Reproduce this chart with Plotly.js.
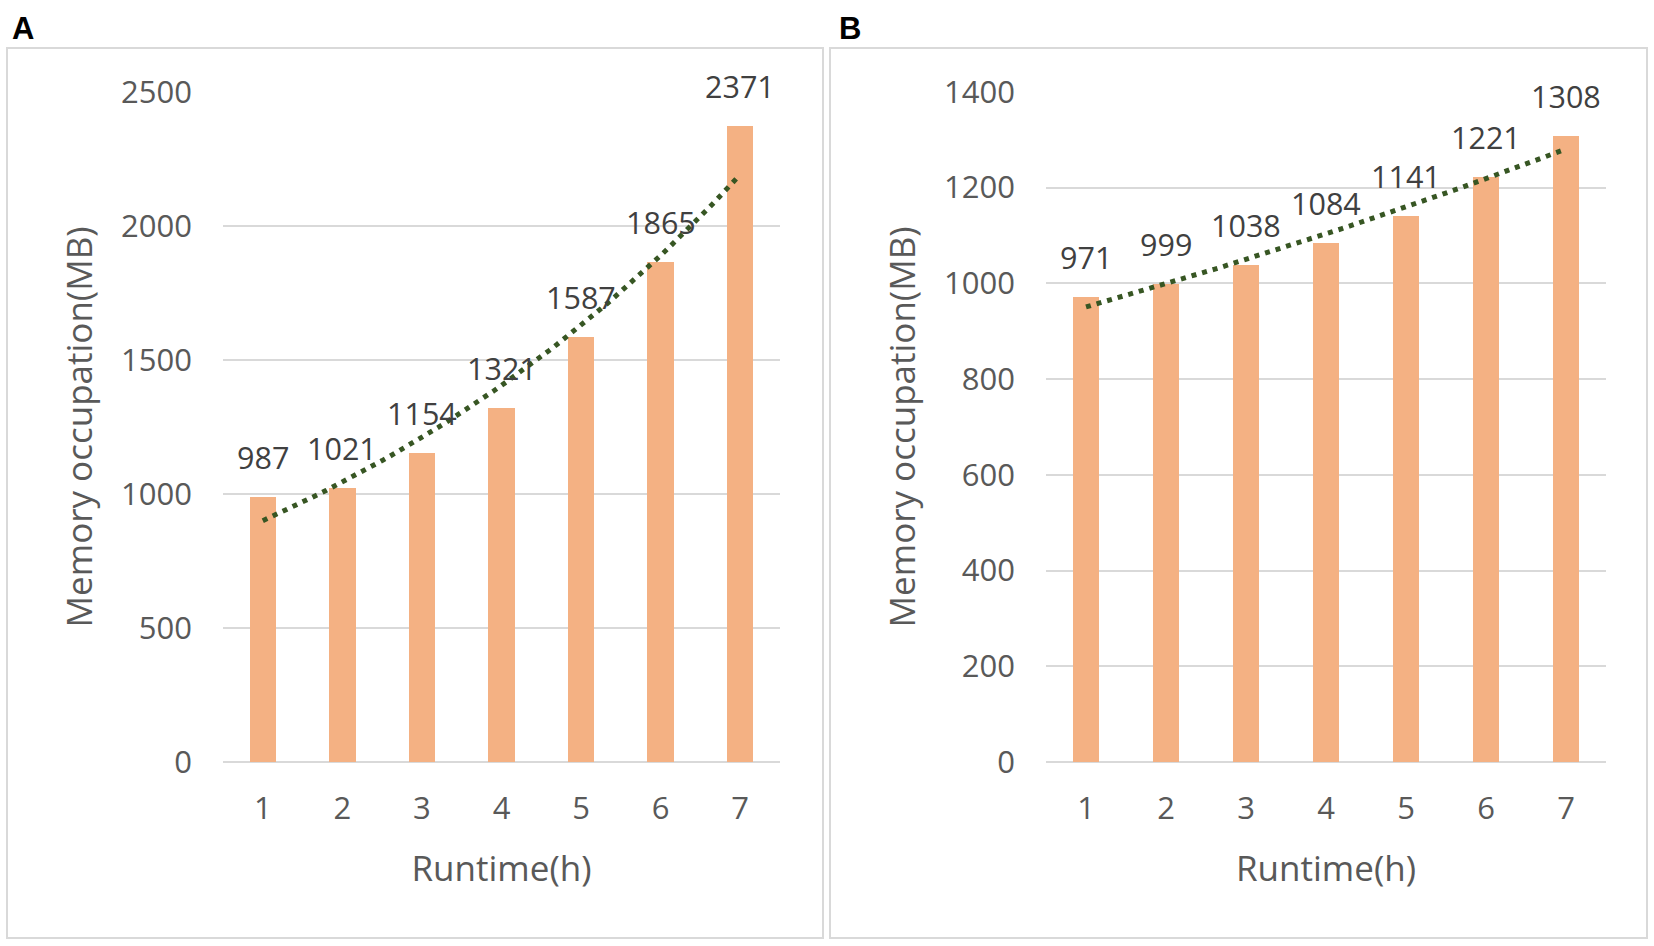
<!DOCTYPE html>
<html>
<head>
<meta charset="utf-8">
<script src="https://cdn.plot.ly/plotly-3.0.1.min.js"></script>
<style>
  html, body { margin: 0; padding: 0; background: #ffffff; }
  #chart { width: 1654px; height: 946px; }
</style>
</head>
<body>
<div id="chart"></div>
<script>
// ---- Data ----
const runtimeHours = [1, 2, 3, 4, 5, 6, 7];
const memoryA = [987, 1021, 1154, 1321, 1587, 1865, 2371];
const memoryB = [971, 999, 1038, 1084, 1141, 1221, 1308];
const yTicksA = [0, 500, 1000, 1500, 2000, 2500];
const yTicksB = [0, 200, 400, 600, 800, 1000, 1200, 1400];
const panelLabels = ["A", "B"];
const xTitle = "Runtime(h)";
const yTitle = "Memory occupation(MB)";

// Exponential trendline (least squares on ln y), as the source chart's trendline
function expTrend(xs, ys) {
  const n = xs.length;
  const ly = ys.map(v => Math.log(v));
  const mx = xs.reduce((a, b) => a + b, 0) / n;
  const my = ly.reduce((a, b) => a + b, 0) / n;
  let sxy = 0, sxx = 0;
  for (let i = 0; i < n; i++) { sxy += (xs[i] - mx) * (ly[i] - my); sxx += (xs[i] - mx) ** 2; }
  const b = sxy / sxx, a = my - b * mx;
  const tx = [], ty = [];
  const x0 = xs[0], x1 = xs[n - 1], steps = 60;
  for (let k = 0; k <= steps; k++) {
    const x = x0 + (x1 - x0) * k / steps;
    tx.push(x); ty.push(Math.exp(a + b * x));
  }
  return { x: tx, y: ty };
}

const FONT = "'Open Sans', 'Noto Sans', sans-serif";
const BAR = "#F4B183";
const TREND = "#375623";
const GRID = "#d9d9d9";
const TXT = "#595959";

const trendA = expTrend(runtimeHours, memoryA);
const trendB = expTrend(runtimeHours, memoryB);

const trendLine = { color: TREND, width: 5, dash: "5px,6px" };

const traces = [
  { type: "bar", x: runtimeHours, y: memoryA, xaxis: "x", yaxis: "y", width: 0.333,
    marker: { color: BAR }, hoverinfo: "x+y", showlegend: false },
  { type: "scatter", mode: "lines", x: trendA.x, y: trendA.y, xaxis: "x", yaxis: "y",
    line: trendLine, showlegend: false, hoverinfo: "skip" },
  { type: "bar", x: runtimeHours, y: memoryB, xaxis: "x2", yaxis: "y2", width: 0.333,
    marker: { color: BAR }, hoverinfo: "x+y", showlegend: false },
  { type: "scatter", mode: "lines", x: trendB.x, y: trendB.y, xaxis: "x2", yaxis: "y2",
    line: trendLine, showlegend: false, hoverinfo: "skip" }
];

const W = 1654, H = 946;
const px = v => v / W;
const py = v => (H - v) / H;

function xAxis(domain, anchor) {
  return {
    domain: domain, anchor: anchor, range: [0.5, 7.5],
    tickmode: "array", tickvals: runtimeHours, ticktext: runtimeHours.map(String),
    showgrid: false, zeroline: false, showline: false, ticks: "",
    ticklabelstandoff: 25,
    tickfont: { family: FONT, size: 31, color: TXT },
    title: { text: xTitle, font: { family: FONT, size: 35, color: TXT }, standoff: 29 },
    automargin: false, fixedrange: true
  };
}
function yAxis(domain, anchor, maxV, ticks) {
  return {
    domain: domain, anchor: anchor, range: [0, maxV],
    tickmode: "array", tickvals: ticks, ticktext: ticks.map(String),
    showgrid: true, gridcolor: GRID, gridwidth: 2,
    zeroline: true, zerolinecolor: GRID, zerolinewidth: 2,
    showline: false, ticks: "", ticklabelstandoff: 30,
    tickfont: { family: FONT, size: 31, color: TXT },
    title: { text: yTitle, font: { family: FONT, size: 35, color: TXT }, standoff: 17 },
    automargin: false, fixedrange: true
  };
}

const yDom = [py(762), py(91.8)];

const annotations = [];
function addLabels(values, xref, yref) {
  values.forEach((v, i) => {
    annotations.push({
      x: runtimeHours[i], y: v, xref: xref, yref: yref,
      text: String(v), showarrow: false, xanchor: "center", yanchor: "bottom",
      yshift: 17, font: { family: FONT, size: 30.5, color: "#404040" }
    });
  });
}
addLabels(memoryA, "x", "y");
addLabels(memoryB, "x2", "y2");
annotations.push({ x: px(10), y: py(28), xref: "paper", yref: "paper", text: "<b>" + panelLabels[0] + "</b>",
  showarrow: false, xanchor: "left", yanchor: "middle",
  font: { family: "'Liberation Sans', Arial, sans-serif", size: 31, color: "#000000" } });
annotations.push({ x: px(837), y: py(28), xref: "paper", yref: "paper", text: "<b>" + panelLabels[1] + "</b>",
  showarrow: false, xanchor: "left", yanchor: "middle",
  font: { family: "'Liberation Sans', Arial, sans-serif", size: 31, color: "#000000" } });

const shapes = [
  { type: "rect", xref: "paper", yref: "paper", x0: px(7), x1: px(823), y0: py(938), y1: py(48),
    line: { color: GRID, width: 2 }, fillcolor: "rgba(0,0,0,0)", layer: "below" },
  { type: "rect", xref: "paper", yref: "paper", x0: px(830), x1: px(1647), y0: py(938), y1: py(48),
    line: { color: GRID, width: 2 }, fillcolor: "rgba(0,0,0,0)", layer: "below" }
];

const layout = {
  width: W, height: H,
  margin: { l: 0, r: 0, t: 0, b: 0, pad: 0 },
  paper_bgcolor: "#ffffff", plot_bgcolor: "#ffffff",
  showlegend: false, bargap: 0,
  font: { family: FONT, color: TXT },
  xaxis: xAxis([px(223), px(780)], "y"),
  yaxis: yAxis(yDom, "x", 2500, yTicksA),
  xaxis2: xAxis([px(1046), px(1606)], "y2"),
  yaxis2: yAxis(yDom, "x2", 1400, yTicksB),
  annotations: annotations,
  shapes: shapes
};

Plotly.newPlot("chart", traces, layout, { displayModeBar: false, staticPlot: true });
</script>
</body>
</html>
